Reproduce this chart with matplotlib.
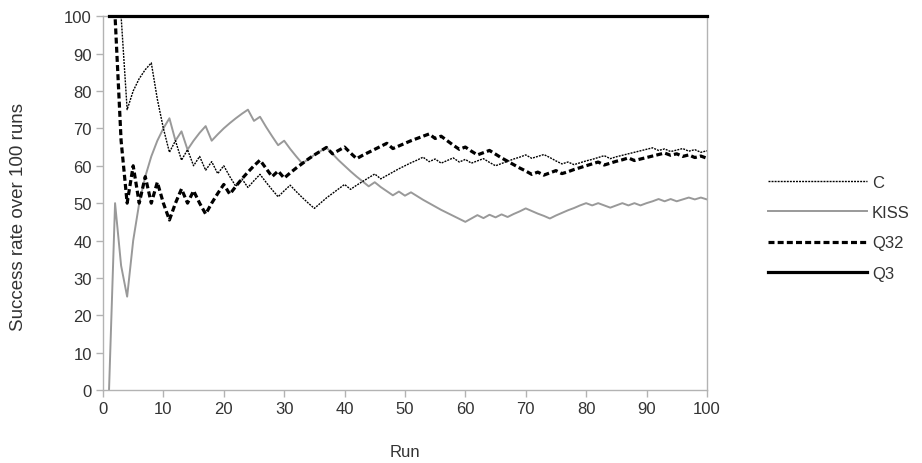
import matplotlib
matplotlib.use('Agg')
from matplotlib import pyplot as plt

plt.rcParams['font.family'] = ['Liberation Sans', 'DejaVu Sans']
plt.rcParams['lines.scale_dashes'] = False

runs = list(range(1, 101))

c_rate = [100, 100, 100, 75, 80, 83.3, 85.7, 87.5, 77.8, 70,
          63.6, 66.7, 61.5, 64.3, 60, 62.5, 58.8, 61.1, 57.9, 60,
          57.1, 54.5, 56.5, 54.2, 56, 57.7, 55.6, 53.6, 51.7, 53.3,
          54.8, 53.1, 51.5, 50, 48.6, 50, 51.4, 52.6, 53.8, 55,
          53.7, 54.8, 55.8, 56.8, 57.8, 56.5, 57.4, 58.3, 59.2, 60,
          60.8, 61.5, 62.3, 61.1, 61.8, 60.7, 61.4, 62.1, 61, 61.7,
          60.7, 61.3, 61.9, 60.9, 60, 60.6, 61.2, 61.8, 62.3, 62.9,
          62, 62.5, 63, 62.2, 61.3, 60.5, 61, 60.3, 60.8, 61.3,
          61.7, 62.2, 62.7, 61.9, 62.4, 62.8, 63.2, 63.6, 64, 64.4,
          64.8, 64.1, 64.5, 63.8, 64.2, 64.6, 63.9, 64.3, 63.6, 64]

kiss_rate = [0, 50, 33.3, 25, 40, 50, 57.1, 62.5, 66.7, 70,
             72.7, 66.7, 69.2, 64.3, 66.7, 68.8, 70.6, 66.7, 68.4, 70,
             71.4, 72.7, 73.9, 75, 72, 73.1, 70.4, 67.9, 65.5, 66.7,
             64.5, 62.5, 60.6, 61.8, 62.9, 63.9, 64.9, 63.2, 61.5, 60,
             58.5, 57.1, 55.8, 54.5, 55.6, 54.3, 53.2, 52.1, 53.1, 52,
             52.9, 51.9, 50.9, 50, 49.1, 48.2, 47.4, 46.6, 45.8, 45,
             45.9, 46.8, 46, 46.9, 46.2, 47, 46.3, 47.1, 47.8, 48.6,
             47.9, 47.2, 46.6, 45.9, 46.7, 47.4, 48.1, 48.7, 49.4, 50,
             49.4, 50, 49.4, 48.8, 49.4, 50, 49.4, 50, 49.4, 50,
             50.5, 51.1, 50.5, 51.1, 50.5, 51, 51.5, 51, 51.5, 51]

q32_rate = [100, 100, 66.7, 50, 60, 50, 57.1, 50, 55.6, 50,
            45.5, 50, 53.8, 50, 53.3, 50, 47.1, 50, 52.6, 55,
            52.4, 54.5, 56.5, 58.3, 60, 61.5, 59.3, 57.1, 58.6, 56.7,
            58.1, 59.4, 60.6, 61.8, 62.9, 63.9, 64.9, 63.2, 64.1, 65,
            63.4, 61.9, 62.8, 63.6, 64.4, 65.2, 66, 64.6, 65.3, 66,
            66.7, 67.3, 67.9, 68.5, 67.3, 67.9, 66.7, 65.5, 64.4, 65,
            63.9, 62.9, 63.5, 64.1, 63.1, 62.1, 61.2, 60.3, 59.4, 58.6,
            57.7, 58.3, 57.5, 58.1, 58.7, 57.9, 58.4, 59, 59.5, 60,
            60.5, 61, 60.2, 60.7, 61.2, 61.6, 62.1, 61.4, 61.8, 62.2,
            62.6, 63, 63.4, 62.8, 63.2, 62.5, 62.9, 62.2, 62.6, 62]

q3_rate = [100] * 100

series_names = ['C', 'KISS', 'Q32', 'Q3']

grey = '#b3b3b3'
text_col = '#333333'

fig = plt.figure(figsize=(9.22, 4.64), dpi=100)
ax = fig.add_axes([0.1117, 0.157, 0.655, 0.806])

ax.plot(runs, c_rate, color='black', lw=1.0, dashes=(1.4, 0.8), label=series_names[0], zorder=3)
ax.plot(runs, kiss_rate, color='#999999', lw=1.4, label=series_names[1], zorder=2)
ax.plot(runs, q32_rate, color='black', lw=2.3, dashes=(4.3, 2.3), label=series_names[2], zorder=4)
ax.plot(runs, q3_rate, color='black', lw=2.3, label=series_names[3], clip_on=False, zorder=5)

ax.set_xlim(0, 100)
ax.set_ylim(0, 100)
ax.set_xticks(range(0, 101, 10))
ax.set_yticks(range(0, 101, 10))

for sp in ax.spines.values():
    sp.set_color(grey)
    sp.set_linewidth(1.0)
ax.tick_params(direction='out', length=5, width=1, color=grey,
               labelcolor=text_col, labelsize=12, pad=3)

ax.set_xlabel('Run', fontsize=12, color=text_col, labelpad=20)
ax.set_ylabel('Success rate over 100 runs', fontsize=13.5, color=text_col)
ax.yaxis.set_label_coords(-0.125, 0.465)

ax.legend(loc='center left', bbox_to_anchor=(0.8335, 0.507), bbox_transform=fig.transFigure,
          frameon=False, fontsize=12, handlelength=5.9, handletextpad=0.3,
          labelspacing=0.92, borderpad=0, borderaxespad=0, labelcolor=text_col)

plt.savefig('out.png', dpi=100)
